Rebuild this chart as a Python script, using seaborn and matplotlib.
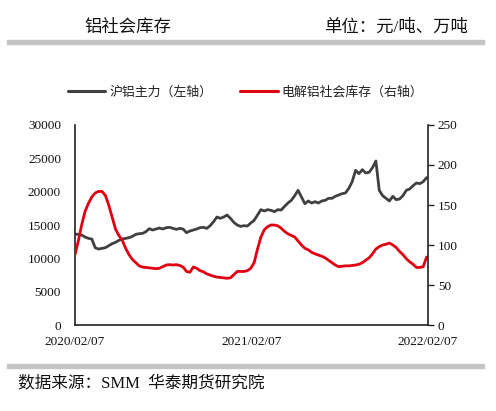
import numpy as np
import pandas as pd
import matplotlib
matplotlib.use("Agg")
import matplotlib.pyplot as plt
import matplotlib.dates as mdates
import seaborn as sns

# ---- data (weekly) ----
start_date = "2020-02-07"
n_weeks = 105
shfe_al = [13650, 13600, 13500, 13200, 13000, 12900, 11600, 11400, 11500, 11600,
           11900, 12200, 12400, 12700, 12900, 13000, 13100, 13300, 13600, 13700,
           13750, 14000, 14450, 14250, 14400, 14550, 14400, 14600, 14650, 14500,
           14350, 14500, 14400, 13850, 14100, 14250, 14400, 14600, 14650, 14500,
           14900, 15500, 16200, 16000, 16200, 16500, 16000, 15400, 15000, 14800,
           14900, 14850, 15300, 15700, 16500, 17300, 17100, 17300, 17200, 17000,
           17300, 17250, 17800, 18300, 18700, 19400, 20200, 19200, 18200, 18600,
           18300, 18500, 18300, 18600, 18700, 19000, 19000, 19300, 19500, 19700,
           19800, 20500, 21500, 23200, 22700, 23300, 22800, 22900, 23600, 24600,
           20200, 19400, 19000, 18600, 19300, 18800, 18900, 19400, 20200, 20400,
           20900, 21300, 21200, 21500, 22100]
social_stock = [87.5, 105, 125, 142, 152, 160, 165, 167, 167, 162,
                150, 135, 120, 112, 106, 96, 88, 82, 78, 74,
                72.5, 72, 71.5, 71, 70.5, 71, 73, 75, 75.5, 75,
                75.5, 74.5, 72.5, 67, 66, 72.5, 71, 68, 66.5, 64,
                62.5, 61, 60, 59.5, 59, 58.5, 59, 63, 67, 67,
                67, 68, 71, 78, 95, 110, 119, 123, 125, 125,
                124, 121, 117, 114, 112, 110, 105, 100, 96, 94,
                91, 89, 87.5, 86, 84, 81, 78, 75, 73, 73.5,
                74, 74, 74.5, 75, 76, 78, 81, 84, 89, 95,
                98, 100, 101, 102.5, 100, 97, 92, 88, 83, 79,
                76, 72, 72, 73, 85]
tick_dates = ["2020-02-07", "2021-02-07", "2022-02-07"]
tick_labels = ["2020/02/07", "2021/02/07", "2022/02/07"]
left_ticks = [0, 5000, 10000, 15000, 20000, 25000, 30000]
right_ticks = [0, 50, 100, 150, 200, 250]
label_black = "沪铝主力（左轴）"
label_red = "电解铝社会库存（右轴）"
title = "铝社会库存"
unit = "单位：元/吨、万吨"
source = "数据来源：SMM  华泰期货研究院"

dates = pd.date_range(start_date, periods=n_weeks, freq="7D")
df = pd.DataFrame({"date": dates, "al": shfe_al, "stock": social_stock})

sns.set_theme(style="white")
cjk = ["Noto Sans CJK SC", "DejaVu Sans"]
mixed = ["Liberation Serif", "Noto Sans CJK SC", "DejaVu Sans"]
num_font = ["Liberation Serif", "DejaVu Serif"]
plt.rcParams["font.family"] = cjk

fig = plt.figure(figsize=(4.96, 4.11), dpi=100)
ax = fig.add_axes([0.151, 0.209, 0.712, 0.487])
ax2 = ax.twinx()

black = "#404040"
red = "#e00012"
sns.lineplot(data=df, x="date", y="al", ax=ax, color=black, linewidth=2.0, legend=False)
sns.lineplot(data=df, x="date", y="stock", ax=ax2, color=red, linewidth=2.0, legend=False)

ax.set_xlim(pd.Timestamp("2020-02-07"), pd.Timestamp("2022-02-07"))
ax.set_ylim(0, 30000)
ax2.set_ylim(0, 250)
ax.set_xticks([pd.Timestamp(d) for d in tick_dates])
ax.set_xticklabels(tick_labels)
ax.set_yticks(left_ticks)
ax.set_yticklabels([str(v) for v in left_ticks])
ax2.set_yticks(right_ticks)
ax2.set_yticklabels([str(v) for v in right_ticks])
ax.set_xlabel("")
ax.set_ylabel("")
ax2.set_ylabel("")
ax.grid(False)
ax2.grid(False)

for a in (ax, ax2):
    for s in a.spines.values():
        s.set_visible(False)
ax.spines["left"].set_visible(True)
ax.spines["bottom"].set_visible(True)
ax2.spines["right"].set_visible(True)
for s in (ax.spines["left"], ax.spines["bottom"], ax2.spines["right"]):
    s.set_color("#222222")
    s.set_linewidth(1.2)

ax.tick_params(axis="y", length=0, pad=10)
ax.tick_params(axis="x", length=4, width=1.0, color="#222222", direction="out", pad=4)
ax2.tick_params(axis="y", length=4, width=1.0, color="#222222", direction="out", pad=3)
for lab in ax.get_xticklabels() + ax.get_yticklabels() + ax2.get_yticklabels():
    lab.set_fontfamily(num_font)
    lab.set_fontsize(9.5)
    lab.set_color("#111111")

# legend
from matplotlib.lines import Line2D
handles = [Line2D([], [], color=black, lw=2.2), Line2D([], [], color=red, lw=2.2)]
fig.legend(handles, [label_black, label_red], loc="center", bbox_to_anchor=(0.495, 0.776),
           ncol=2, frameon=False, handlelength=2.9, handletextpad=0.3, columnspacing=2.2,
           prop={"family": cjk, "size": 9.3}, labelcolor="#222222")

# header / footer
fig.text(0.258, 0.934, title, ha="center", va="center", fontsize=12.5, family=cjk, color="#111111")
fig.text(0.944, 0.934, unit, ha="right", va="center", fontsize=12.5, family=mixed, color="#111111")
fig.patches.append(plt.Rectangle((0.014, 0.893), 0.962, 0.010, transform=fig.transFigure,
                                 color="#c4c4c4", zorder=0))
fig.patches.append(plt.Rectangle((0.014, 0.105), 0.962, 0.010, transform=fig.transFigure,
                                 color="#c4c4c4", zorder=0))
fig.text(0.036, 0.068, source, ha="left", va="center", fontsize=12, family=mixed, color="#111111")

fig.savefig("out.png", dpi=100)
